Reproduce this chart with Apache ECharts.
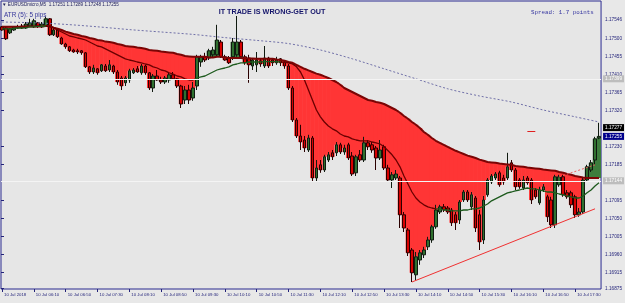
<!DOCTYPE html>
<html><head><meta charset="utf-8">
<script src="https://cdn.jsdelivr.net/npm/echarts@6/dist/echarts.min.js"></script>
<style>html,body{margin:0;padding:0;background:#e8e8e8}#c{width:625px;height:303px}</style>
</head><body><div id="c"></div><script>
const symbolName = 'EURUSDmicro,M5';
const chartTitle = 'IT TRADE IS WRONG-GET OUT';
const atrText = 'ATR (5): 5 pips';
const spreadText = 'Spread: 1.7 points';
const xTickLabels = ['10 Jul 2018','10 Jul 06:10','10 Jul 06:50','10 Jul 07:30','10 Jul 08:10','10 Jul 08:50','10 Jul 09:30','10 Jul 10:10','10 Jul 10:50','10 Jul 11:30','10 Jul 12:10','10 Jul 12:50','10 Jul 13:30','10 Jul 14:10','10 Jul 14:50','10 Jul 15:30','10 Jul 16:10','10 Jul 16:50','10 Jul 17:30'];
const priceTicks = [1.16875,1.16915,1.16960,1.17005,1.17050,1.17095,1.17185,1.17230,1.17320,1.17365,1.17410,1.17455,1.17500,1.17546];
const openP = [1.17529,1.17526,1.17514,1.17521,1.17529,1.17531,1.17526,1.17531,1.17529,1.17539,
1.17529,1.17531,1.17549,1.17509,1.17521,1.17501,1.17486,1.17479,1.17471,1.17469,
1.17469,1.17464,1.17429,1.17416,1.17424,1.17419,1.17431,1.17421,1.17431,1.17416,
1.17401,1.17389,1.17396,1.17414,1.17424,1.17414,1.17431,1.17414,1.17376,1.17406,
1.17396,1.17391,1.17396,1.17409,1.17399,1.17381,1.17346,1.17371,1.17351,1.17381,
1.17441,1.17454,1.17451,1.17459,1.17459,1.17491,1.17454,1.17451,1.17454,1.17459,
1.17491,1.17454,1.17451,1.17431,1.17434,1.17444,1.17431,1.17451,1.17446,1.17439,
1.17449,1.17441,1.17431,1.17376,1.17296,1.17256,1.17246,1.17221,1.17251,1.17151,
1.17184,1.17171,1.17196,1.17214,1.17214,1.17234,1.17216,1.17234,1.17206,1.17164,
1.17209,1.17196,1.17239,1.17234,1.17226,1.17201,1.17229,1.17176,1.17146,1.17151,
1.17151,1.17059,1.17021,1.16971,1.16909,1.16946,1.16959,1.16979,1.16996,1.17029,
1.17066,1.17079,1.17076,1.17071,1.17059,1.17046,1.17096,1.17116,1.17079,1.17101,
1.17059,1.16996,1.17109,1.17141,1.17151,1.17164,1.17151,1.17151,1.17189,1.17171,
1.17146,1.17126,1.17151,1.17146,1.17121,1.17089,1.17121,1.17104,1.17096,1.17034,
1.17134,1.17154,1.17114,1.17114,1.17104,1.17059,1.17066,1.17146,1.17171,1.17196,
1.17251];
const closeP = [1.17521,1.17499,1.17524,1.17529,1.17526,1.17526,1.17536,1.17539,1.17544,1.17531,
1.17536,1.17549,1.17509,1.17521,1.17504,1.17486,1.17479,1.17469,1.17466,1.17466,
1.17464,1.17429,1.17416,1.17426,1.17414,1.17434,1.17419,1.17434,1.17416,1.17391,
1.17381,1.17401,1.17419,1.17421,1.17416,1.17431,1.17414,1.17376,1.17406,1.17396,
1.17391,1.17401,1.17409,1.17399,1.17381,1.17336,1.17371,1.17346,1.17376,1.17454,
1.17454,1.17446,1.17469,1.17471,1.17496,1.17454,1.17446,1.17439,1.17491,1.17491,
1.17454,1.17439,1.17434,1.17446,1.17446,1.17436,1.17451,1.17431,1.17439,1.17446,
1.17439,1.17431,1.17376,1.17296,1.17256,1.17241,1.17226,1.17251,1.17151,1.17176,
1.17171,1.17204,1.17209,1.17204,1.17234,1.17216,1.17226,1.17201,1.17161,1.17204,
1.17196,1.17239,1.17229,1.17221,1.17201,1.17221,1.17176,1.17146,1.17159,1.17161,
1.17059,1.17026,1.16964,1.16914,1.16954,1.16964,1.16971,1.16996,1.17029,1.17071,
1.17079,1.17071,1.17066,1.17039,1.17039,1.17091,1.17116,1.17096,1.17109,1.17026,
1.16991,1.17096,1.17146,1.17156,1.17161,1.17134,1.17141,1.17179,1.17171,1.17129,
1.17129,1.17146,1.17139,1.17096,1.17104,1.17121,1.17129,1.17054,1.17034,1.17154,
1.17154,1.17109,1.17104,1.17084,1.17059,1.17066,1.17146,1.17179,1.17189,1.17249,
1.17255];
const highP = [1.17531,1.17529,1.17526,1.17531,1.17534,1.17536,1.17541,1.17549,1.17549,1.17541,
1.17541,1.17554,1.17551,1.17526,1.17526,1.17504,1.17489,1.17481,1.17474,1.17474,
1.17471,1.17466,1.17431,1.17434,1.17426,1.17436,1.17436,1.17446,1.17434,1.17421,
1.17406,1.17406,1.17424,1.17426,1.17431,1.17436,1.17434,1.17416,1.17411,1.17421,
1.17404,1.17406,1.17414,1.17416,1.17401,1.17384,1.17381,1.17384,1.17391,1.17459,
1.17459,1.17464,1.17474,1.17479,1.17534,1.17496,1.17459,1.17456,1.17501,1.17556,
1.17496,1.17459,1.17459,1.17451,1.17466,1.17451,1.17481,1.17454,1.17451,1.17454,
1.17451,1.17446,1.17436,1.17381,1.17301,1.17284,1.17256,1.17259,1.17256,1.17196,
1.17196,1.17209,1.17216,1.17221,1.17241,1.17239,1.17234,1.17239,1.17216,1.17209,
1.17221,1.17254,1.17246,1.17241,1.17231,1.17246,1.17234,1.17184,1.17166,1.17171,
1.17156,1.17066,1.17026,1.16976,1.16966,1.16971,1.16979,1.17004,1.17034,1.17084,
1.17084,1.17086,1.17081,1.17076,1.17066,1.17096,1.17121,1.17121,1.17116,1.17106,
1.17071,1.17106,1.17151,1.17161,1.17166,1.17169,1.17159,1.17214,1.17196,1.17176,
1.17151,1.17156,1.17156,1.17151,1.17126,1.17129,1.17136,1.17109,1.17104,1.17159,
1.17159,1.17159,1.17121,1.17119,1.17109,1.17076,1.17151,1.17184,1.17196,1.17254,
1.17289];
const lowP = [1.17519,1.17496,1.17511,1.17519,1.17524,1.17524,1.17524,1.17529,1.17526,1.17526,
1.17526,1.17529,1.17506,1.17506,1.17501,1.17484,1.17474,1.17466,1.17464,1.17461,
1.17459,1.17426,1.17411,1.17411,1.17409,1.17416,1.17416,1.17416,1.17411,1.17384,
1.17371,1.17381,1.17389,1.17411,1.17414,1.17409,1.17409,1.17371,1.17366,1.17394,
1.17386,1.17386,1.17389,1.17396,1.17376,1.17326,1.17336,1.17336,1.17344,1.17371,
1.17429,1.17441,1.17446,1.17451,1.17454,1.17451,1.17444,1.17436,1.17446,1.17454,
1.17449,1.17434,1.17389,1.17421,1.17416,1.17429,1.17426,1.17426,1.17431,1.17434,
1.17431,1.17424,1.17371,1.17291,1.17251,1.17221,1.17216,1.17216,1.17141,1.17141,
1.17164,1.17166,1.17191,1.17196,1.17206,1.17211,1.17209,1.17196,1.17156,1.17156,
1.17191,1.17191,1.17221,1.17214,1.17171,1.17196,1.17171,1.17141,1.17126,1.17146,
1.17026,1.17016,1.16956,1.16891,1.16896,1.16934,1.16951,1.16971,1.16989,1.17024,
1.17061,1.17066,1.17061,1.17031,1.17021,1.17036,1.17091,1.17091,1.17071,1.17016,
1.16971,1.16986,1.17104,1.17136,1.17146,1.17129,1.17134,1.17146,1.17166,1.17121,
1.17124,1.17121,1.17134,1.17086,1.17099,1.17084,1.17116,1.17041,1.17026,1.17026,
1.17129,1.17104,1.17099,1.17076,1.17051,1.17054,1.17061,1.17141,1.17166,1.17184,
1.17248];
const slowMA = [1.17529,1.17529,1.17529,1.17529,1.17529,1.17529,1.17530,1.17530,1.17530,1.17530,
1.17530,1.17531,1.17531,1.17527,1.17524,1.17521,1.17517,1.17514,1.17511,1.17509,
1.17506,1.17504,1.17501,1.17499,1.17496,1.17495,1.17492,1.17491,1.17489,1.17486,
1.17484,1.17481,1.17480,1.17479,1.17477,1.17476,1.17474,1.17471,1.17470,1.17469,
1.17467,1.17466,1.17465,1.17464,1.17461,1.17459,1.17456,1.17455,1.17454,1.17454,
1.17454,1.17454,1.17452,1.17452,1.17454,1.17454,1.17452,1.17451,1.17451,1.17451,
1.17451,1.17450,1.17450,1.17450,1.17449,1.17449,1.17449,1.17449,1.17449,1.17447,
1.17446,1.17444,1.17441,1.17439,1.17434,1.17429,1.17424,1.17420,1.17416,1.17412,
1.17409,1.17405,1.17401,1.17396,1.17391,1.17384,1.17376,1.17371,1.17366,1.17361,
1.17356,1.17351,1.17346,1.17344,1.17341,1.17339,1.17336,1.17331,1.17326,1.17321,
1.17314,1.17306,1.17299,1.17291,1.17284,1.17276,1.17266,1.17259,1.17251,1.17244,
1.17239,1.17234,1.17229,1.17224,1.17219,1.17215,1.17211,1.17207,1.17204,1.17201,
1.17197,1.17194,1.17191,1.17190,1.17189,1.17187,1.17186,1.17185,1.17184,1.17181,
1.17180,1.17179,1.17177,1.17176,1.17175,1.17174,1.17172,1.17171,1.17170,1.17169,
1.17166,1.17164,1.17161,1.17159,1.17156,1.17154,1.17152,1.17151,1.17151,1.17151,
1.17151];
const fastMA = [1.17524,1.17524,1.17524,1.17525,1.17526,1.17526,1.17527,1.17529,1.17529,1.17530,
1.17530,1.17531,1.17529,1.17526,1.17521,1.17516,1.17511,1.17506,1.17504,1.17501,
1.17499,1.17496,1.17491,1.17486,1.17481,1.17479,1.17474,1.17469,1.17464,1.17459,
1.17454,1.17449,1.17446,1.17444,1.17441,1.17439,1.17436,1.17434,1.17429,1.17426,
1.17421,1.17419,1.17414,1.17411,1.17406,1.17404,1.17399,1.17396,1.17396,1.17401,
1.17404,1.17406,1.17411,1.17416,1.17421,1.17424,1.17426,1.17429,1.17434,1.17436,
1.17439,1.17439,1.17441,1.17441,1.17441,1.17441,1.17442,1.17442,1.17442,1.17442,
1.17441,1.17440,1.17439,1.17436,1.17429,1.17416,1.17396,1.17371,1.17346,1.17321,
1.17304,1.17291,1.17281,1.17274,1.17269,1.17261,1.17256,1.17254,1.17249,1.17246,
1.17244,1.17244,1.17244,1.17241,1.17239,1.17236,1.17229,1.17219,1.17209,1.17196,
1.17179,1.17156,1.17136,1.17116,1.17101,1.17091,1.17084,1.17079,1.17076,1.17074,
1.17074,1.17071,1.17071,1.17069,1.17069,1.17069,1.17071,1.17071,1.17074,1.17074,
1.17076,1.17081,1.17086,1.17094,1.17099,1.17104,1.17109,1.17114,1.17116,1.17119,
1.17121,1.17124,1.17126,1.17124,1.17124,1.17121,1.17119,1.17116,1.17116,1.17114,
1.17111,1.17109,1.17106,1.17104,1.17101,1.17101,1.17106,1.17114,1.17121,1.17131,
1.17139];
// bar index where the fast line switches colour: up = green, down = dark red
const fastColourFrom = [0, 12, 49, 71, 110];
const fastColourUp = [true, false, true, false, true];
const longMA = [[0,1.17541],[8,1.17539],[16,1.17535],[24,1.17529],[32,1.17522],[40,1.17516],[48,1.17510],[56,1.17502],[64,1.17495],[72,1.17487],[80,1.17471],[88,1.17449],[96,1.17424],[104,1.17399],[112,1.17374],[120,1.17356],[128,1.17341],[136,1.17321],[144,1.17304],[150,1.17291]];
const hLinePrices = [1.17399, 1.17144];
const askPrice = 1.17277;
const trendLine = [[103, 1.16891], [149, 1.17074]];
const channelLine = [[140, 1.17154], [149, 1.17184]];
const smallMark = [[132, 1.17269], [133.5, 1.17269]];

const N = closeP.length;
const times = [];
for (let i = 0; i < N; i++) { const m = 330 + 5 * i; times.push(String(Math.floor(m / 60)).padStart(2, '0') + ':' + String(m % 60).padStart(2, '0')); }
const yMin = 1.168735, yMax = 1.175935;
const navy = '#23237a';
const plotBg = '#e6e6e6';
const candles = closeP.map((c, i) => [openP[i], c, lowP[i], highP[i]]);
const fillBase = closeP.map((c, i) => Math.min(c, slowMA[i]));
const fillDiff = closeP.map((c, i) => ({ value: Math.abs(c - slowMA[i]), itemStyle: { color: c < slowMA[i] ? '#ff3535' : '#3d7d3d' } }));
const isUp = fastMA.map((v, i) => { let k = 0; for (let j = 0; j < fastColourFrom.length; j++) if (i >= fastColourFrom[j]) k = j; return fastColourUp[k]; });
const fastUp = fastMA.map((v, i) => (isUp[i] || (i + 1 < N && isUp[i + 1])) ? v : null);
const fastDn = fastMA.map((v, i) => (!isUp[i] || (i + 1 < N && !isUp[i + 1])) ? v : null);
const last = N - 1;
const headerText = '\u25BC ' + symbolName + '  ' + [openP[last], highP[last], lowP[last], closeP[last]].map(v => v.toFixed(5)).join(' ');

const chart = echarts.init(document.getElementById('c'), null, { renderer: 'canvas' });
const boxLabel = (bg, txt) => ({ show: true, position: 'end', distance: 2, formatter: () => txt.toFixed(5), backgroundColor: bg, color: '#ffffff', fontSize: 4.7, fontFamily: 'Liberation Sans', padding: [1, 2, 1, 2] });
const hLine = (p, color, bg) => [
  { coord: [0, p], lineStyle: { color: color, width: 1, type: 'solid' }, label: boxLabel(bg, p) },
  { coord: [1, p] }
];
chart.setOption({
  animation: false,
  backgroundColor: '#e8e8e8',
  grid: [
    { left: 1, top: 1, width: 602, height: 288, show: true, backgroundColor: plotBg, borderColor: '#2b2b90', borderWidth: 1 },
    { left: -1, top: 1, width: 602, height: 288 }
  ],
  xAxis: [
    { gridIndex: 0, type: 'value', show: false, min: 0, max: 1 },
    { gridIndex: 1, type: 'category', data: times, boundaryGap: true,
      axisLine: { show: false },
      axisTick: { show: true, alignWithLabel: true, interval: (idx) => idx % 8 === 0, length: 3, lineStyle: { color: navy } },
      axisLabel: { interval: (idx) => idx % 8 === 0, formatter: (v, idx) => xTickLabels[idx / 8] || '', align: 'left', fontSize: 4.3, fontFamily: 'Liberation Sans', color: navy, margin: 4, padding: [0, 0, 0, 2] } }
  ],
  yAxis: [
    { gridIndex: 0, type: 'value', position: 'right', min: yMin, max: yMax,
      axisLine: { show: false }, splitLine: { show: false },
      axisTick: { show: true, length: 3, customValues: priceTicks, lineStyle: { color: navy } },
      axisLabel: { customValues: priceTicks, formatter: v => v.toFixed(5), fontSize: 4.7, fontFamily: 'Liberation Sans', color: navy, margin: 4 } },
    { gridIndex: 1, type: 'value', min: yMin, max: yMax, show: false }
  ],
  series: [
    { type: 'bar', xAxisIndex: 1, yAxisIndex: 1, stack: 'fill', data: fillBase, barWidth: 4.6, itemStyle: { color: 'rgba(0,0,0,0)' }, silent: true, z: 1 },
    { type: 'bar', xAxisIndex: 1, yAxisIndex: 1, stack: 'fill', data: fillDiff, barWidth: 4.6, silent: true, z: 1 },
    { type: 'candlestick', xAxisIndex: 1, yAxisIndex: 1, data: candles, barWidth: 3, z: 3,
      itemStyle: { color: '#2f702f', color0: '#d80000', borderColor: '#101a10', borderColor0: '#2a0000', borderWidth: 1 } },
    { type: 'line', xAxisIndex: 1, yAxisIndex: 1, data: slowMA, symbol: 'none', z: 4, lineStyle: { color: '#7a0505', width: 2 } },
    { type: 'line', xAxisIndex: 1, yAxisIndex: 1, data: fastDn, symbol: 'none', z: 4, lineStyle: { color: '#6a0000', width: 1.3 } },
    { type: 'line', xAxisIndex: 1, yAxisIndex: 1, data: fastUp, symbol: 'none', z: 4, lineStyle: { color: '#1d5a1d', width: 1.3 } },
    { type: 'line', xAxisIndex: 1, yAxisIndex: 1, data: longMA, symbol: 'none', smooth: 0.3, connectNulls: true, z: 4, lineStyle: { color: '#7070a8', width: 1, type: [2, 2] } },
    { type: 'line', xAxisIndex: 1, yAxisIndex: 1, data: [], z: 5,
      markLine: { silent: true, symbol: ['none', 'none'], animation: false, precision: 6,
        data: [
          [{ coord: trendLine[0], lineStyle: { color: '#f03030', width: 1, type: 'solid' }, label: { show: false } }, { coord: trendLine[1] }],
          [{ coord: channelLine[0], lineStyle: { color: '#f06060', width: 1, type: [2, 2] }, label: { show: false } }, { coord: channelLine[1] }],
          [{ coord: smallMark[0], lineStyle: { color: '#e02020', width: 1, type: 'solid' }, label: { show: false } }, { coord: smallMark[1] }]
        ] } },
    { type: 'line', xAxisIndex: 0, yAxisIndex: 0, data: [], z: 2,
      markLine: { silent: true, symbol: ['none', 'none'], animation: false, precision: 6,
        data: [
          hLine(hLinePrices[0], '#f4f4f4', '#bdbdbd'),
          hLine(hLinePrices[1], '#f4f4f4', '#bdbdbd'),
          hLine(askPrice, 'rgba(0,0,0,0)', '#000000'),
          hLine(closeP[last], 'rgba(0,0,0,0)', '#00008c')
        ] } }
  ],
  graphic: [
    { type: 'text', left: 2, top: 2, style: { text: headerText, fontSize: 4.6, fontFamily: 'Liberation Sans, DejaVu Sans', fill: '#1a1a5a' } },
    { type: 'text', left: 4, top: 12, style: { text: atrText, fontSize: 6.4, fontFamily: 'Liberation Sans', fill: '#35359a' } },
    { type: 'text', x: 272, y: 12, style: { text: chartTitle, fontSize: 7.2, fontWeight: 'bold', fontFamily: 'Liberation Sans', fill: '#14146a', align: 'center', verticalAlign: 'middle' } },
    { type: 'text', x: 531, y: 12, style: { text: spreadText, fontSize: 5.8, fontFamily: 'Liberation Mono', fill: '#3535a0', verticalAlign: 'middle' } }
  ]
});
</script></body></html>
